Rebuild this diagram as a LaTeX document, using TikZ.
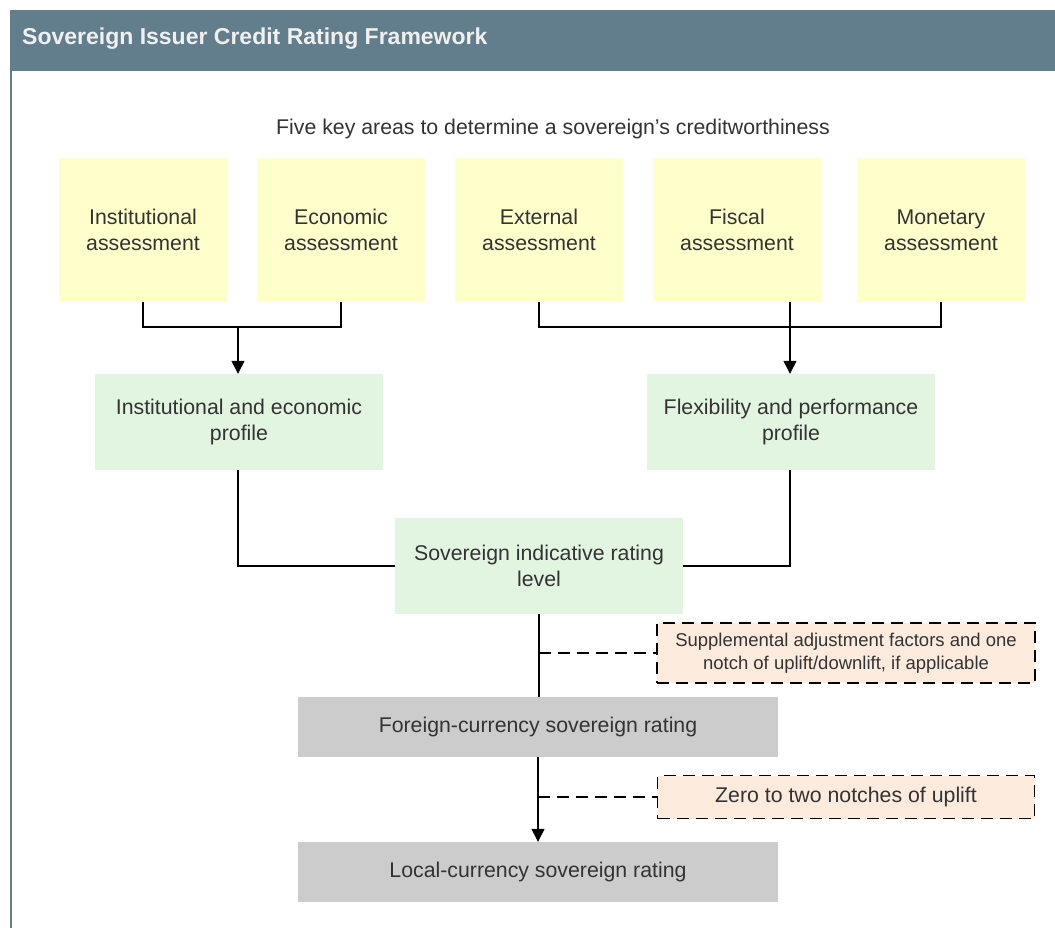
\documentclass[tikz,border=0pt]{standalone}
\usepackage{fontspec}
\setmainfont{Liberation Sans}
\usetikzlibrary{arrows.meta}

\definecolor{headblue}{RGB}{98,126,141}
\definecolor{areayellow}{RGB}{255,255,204}
\definecolor{profilegreen}{RGB}{225,245,224}
\definecolor{ratinggrey}{RGB}{204,204,204}
\definecolor{notepeach}{RGB}{253,236,222}
\definecolor{textgrey}{RGB}{51,51,51}

\begin{document}
\begin{tikzpicture}[x=1pt, y=-1pt,
  every node/.style={text=textgrey, font=\fontsize{21.3}{26}\selectfont, align=center, inner sep=0pt},
  areabox/.style={fill=areayellow, minimum width=168pt, minimum height=144pt},
  profilebox/.style={fill=profilegreen, minimum width=288pt, minimum height=96pt},
  ratingbox/.style={fill=ratinggrey, minimum width=480pt, minimum height=60pt},
  notebox/.style={fill=notepeach, draw=black, line width=1.3pt, dash pattern=on 12pt off 7pt},
  link/.style={draw=black, line width=1.3pt},
  flow/.style={link, -{Triangle[width=13pt,length=13pt]}},
  side/.style={link, dash pattern=on 12pt off 7pt}]
\useasboundingbox (0,0) rectangle (1055,928);

\fill[headblue] (10,10) rectangle (1055,71);
\draw[headblue, line width=2pt] (11,71) -- (11,928);
\node[anchor=west, text=white!94!black, font=\fontsize{23}{26}\selectfont\bfseries] (title) at (22,39) {Sovereign Issuer Credit Rating Framework};

\node (areas) at (553,129) {Five key areas to determine a sovereign’s creditworthiness};

\node[areabox] (inst) at (143,230) {Institutional\\assessment};
\node[areabox] (econ) at (341,230) {Economic\\assessment};
\node[areabox] (ext) at (539,230) {External\\assessment};
\node[areabox] (fisc) at (737,230) {Fiscal\\assessment};
\node[areabox] (mone) at (941,230) {Monetary\\assessment};

\node[profilebox] (iep) at (239,422) {Institutional and economic\\profile};
\node[profilebox] (fpp) at (791,422) {Flexibility and performance\\profile};
\node[profilebox] (sirl) at (539,566) {Sovereign indicative rating\\level};

\node[notebox, minimum width=378pt, minimum height=60pt, font=\fontsize{18.5}{23}\selectfont] (supp) at (846,653) {Supplemental adjustment factors and one\\notch of uplift/downlift, if applicable};
\node[ratingbox] (fcsr) at (538,727) {Foreign-currency sovereign rating};
\node[notebox, minimum width=377pt, minimum height=43pt] (zero) at (846,797) {Zero to two notches of uplift};
\node[ratingbox] (lcsr) at (538,872) {Local-currency sovereign rating};

\coordinate (jl) at (238,327);
\coordinate (jr) at (790,327);

\draw[link] (inst.south) |- (jl) -| (econ.south);
\draw[flow] (jl) -- (jl |- iep.north);
\draw[link] (ext.south) |- (jr) -| (mone.south);
\draw[flow] (jr |- fisc.south) -- (jr |- fpp.north);

\draw[link] (iep.south -| jl) |- (sirl.west);
\draw[link] (fpp.south -| jr) |- (sirl.east);

\draw[link] (sirl.south) -- (sirl.south |- fcsr.north);
\draw[side] (sirl.south |- supp.west) -- (supp.west);
\draw[flow] (fcsr.south) -- (lcsr.north);
\draw[side] (fcsr.south |- zero.west) -- (zero.west);
\end{tikzpicture}
\end{document}
